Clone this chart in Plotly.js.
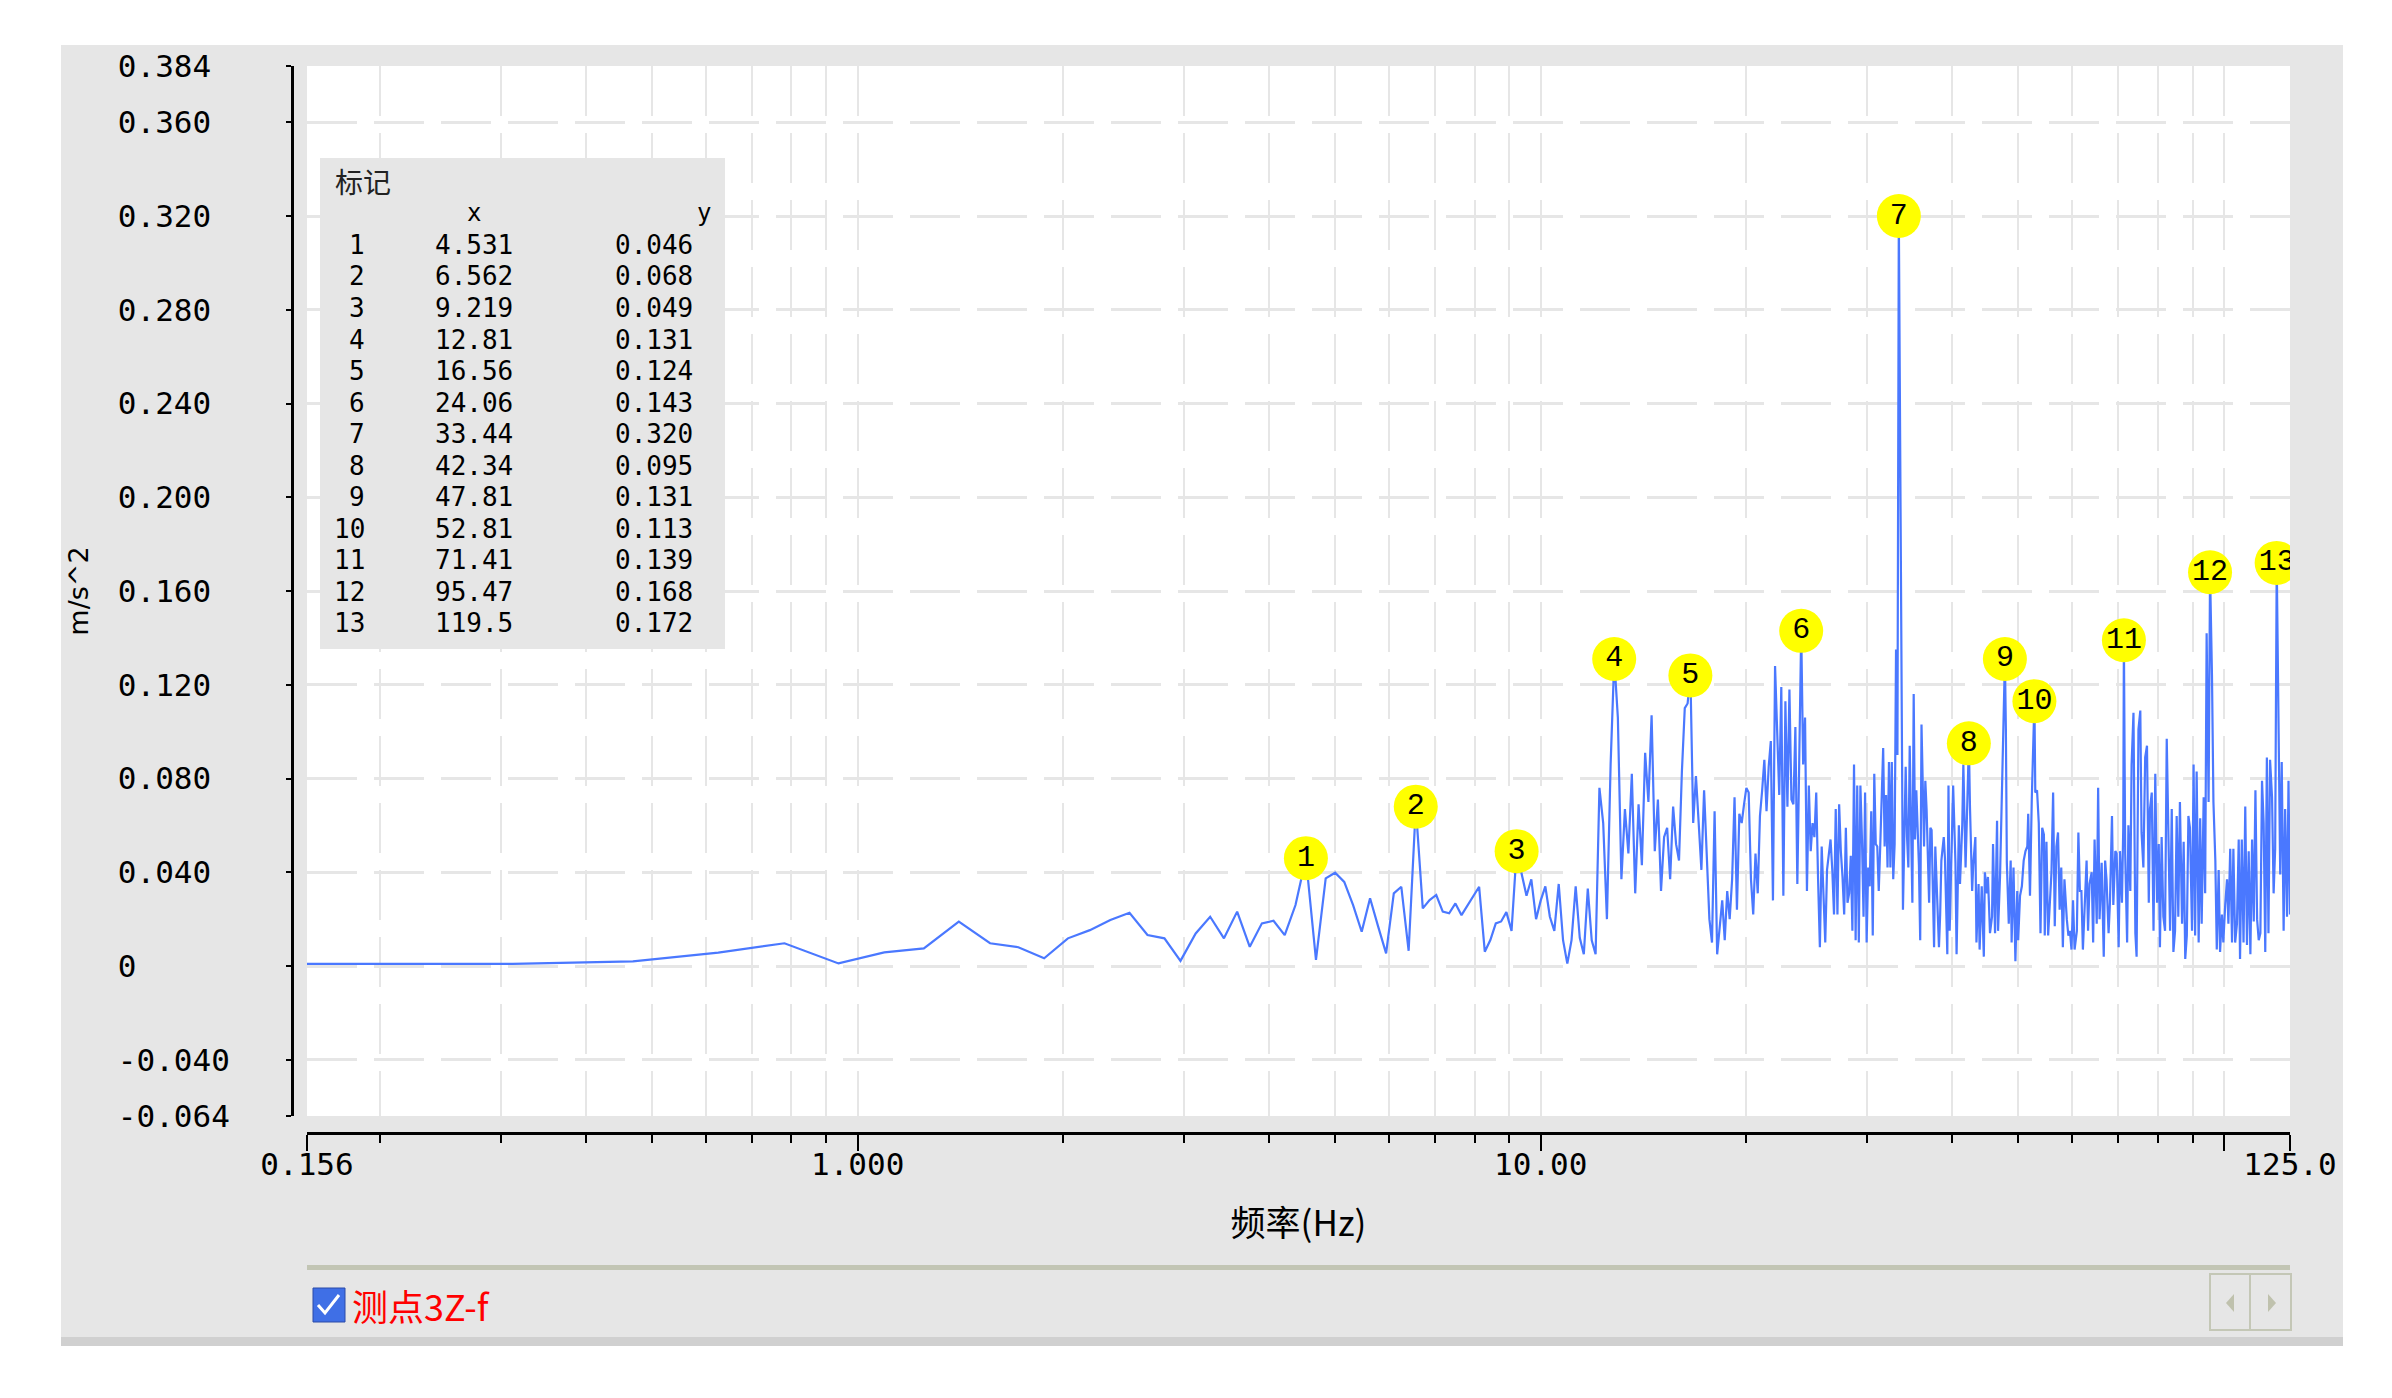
<!DOCTYPE html>
<html><head><meta charset="utf-8">
<script src="https://cdn.plot.ly/plotly-3.0.1.min.js"></script>
<style>
html,body{margin:0;padding:0;background:#ffffff;width:2392px;height:1398px;overflow:hidden;}
#chart{position:absolute;left:61px;top:45px;width:2282px;height:1301px;}
</style></head><body><div id="chart"></div>
<script>
// ---------------- DATA ----------------
// FFT line spacing of the spectrum (Hz per bin)
const FREQ_STEP_HZ = 0.15625;
// Amplitudes are given in units of 0.001 m/s^2
// bins 1..109, consecutive
const lowStartBin = 1;
const lowAmp = [0.9,0.9,2.0,5.7,9.7,1.1,5.8,7.5,18.9,9.7,
  8.0,3.3,11.8,15.3,19.6,22.7,13.2,11.8,2.2,13.9,
  21.0,11.8,23.2,8.2,18.2,19.3,13.2,26.0,46,2.6,
  37.4,39.8,35.9,26.0,14.6,28.9,16.8,5.4,31.0,33.8,
  6.5,68,24.6,28.1,30.3,23.2,22.5,26.7,21.7,26.0,
  29.6,33.8,6.1,11.1,18.2,19,23,15,49,39,
  30,37,20,28,34,21,15,35,11,1,
  11,34,12,5,33,11,5,76,61,20,
  86,131,106,37,67,48,82,31,69,43,
  91,70,107,49,71,32,55,59,37,68,
  52,45,83,110,112,124,61,81,59];
// bins 110..215, consecutive
const midStartBin = 110;
const midAmp = [41,75,46,20,10,66,5,18,28,11,
  32,20,37,72,24,65,61,69,76,74,
  37,22,48,31,64,75,88,66,85,96,
  28,128,99,73,119,30,113,68,118,71,
  69,102,35,99,143,86,106,32,77,49,
  61,55,74,37,8,51,28,10,41,47,
  54,41,22,67,22,69,49,38,22,59,
  27,31,47,15,86,11,77,10,77,54,
  21,74,10,42,34,66,13,82,52,51,
  32,51,71,93,51,73,42,87,42,87,
  37,52,135,90,320,228];
// dense part above bin 215 (bin numbers)
const highBins = [216,217,219,220,221,222,224,225,226,227,229,230,231,233,234,235,237,238,239,241,
  242,243,245,246,247,249,250,252,253,254,256,257,259,260,262,263,265,266,268,269,
  271,272,274,275,277,278,280,281,283,285,286,288,289,291,293,294,296,298,299,301,
  303,305,306,307,308,310,312,313,315,317,319,320,322,324,326,328,330,331,333,335,
  337,338,339,341,343,345,347,349,350,352,354,356,358,360,362,364,366,368,370,372,
  374,377,379,381,383,385,387,390,392,394,396,398,401,403,405,407,410,412,414,417,
  419,421,424,427,429,431,434,436,439,441,444,446,449,451,454,456,457,459,462,464,
  467,469,472,475,477,480,483,485,488,491,494,497,499,502,505,508,511,514,516,519,
  522,525,528,531,534,537,540,543,546,549,552,556,559,562,565,568,571,575,578,581,
  584,588,591,594,598,601,604,608,611,615,618,622,625,629,632,636,639,643,647,650,
  654,658,661,665,669,673,676,680,684,688,692,696,700,704,708,712,716,720,724,728,
  732,736,740,744,748,753,757,761,765,770,774,778,783,787,792,796,800];
const highAmp = [95,24,85,55,42,94,27,116,54,75,43,11,103,51,79,67,27,59,58,8,
  51,35,8,22,45,55,46,5,77,15,58,77,44,5,60,35,60,86,42,59,
  95,68,32,43,55,10,35,7,34,4,40,31,38,14,21,52,14,62,15,38,
  75,122,131,101,44,18,45,10,42,2,32,11,30,34,45,49,51,65,30,71,
  104,113,74,75,61,14,59,56,13,53,13,25,40,74,17,51,57,24,42,8,
  37,20,13,15,7,28,7,15,57,32,32,7,27,45,15,35,40,10,54,18,
  76,20,44,4,45,37,14,27,64,26,49,48,8,49,27,59,139,48,10,60,
  32,86,108,14,4,101,109,57,42,89,94,27,67,74,15,82,27,52,8,55,
  21,15,97,54,15,67,6,15,64,21,70,18,53,3,13,64,59,15,86,13,
  83,10,63,18,72,31,142,70,168,124,70,45,7,41,6,22,10,26,37,18,
  50,10,50,10,18,54,3,54,10,68,9,49,5,54,19,75,20,11,14,79,
  61,6,89,14,88,72,31,50,172,99,39,87,15,67,21,79,22];

// Marker table
const markerNo = [1,2,3,4,5,6,7,8,9,10,11,12,13];
const markerFreq = [4.531,6.562,9.219,12.81,16.56,24.06,33.44,42.34,47.81,52.81,71.41,95.47,119.5];
const markerAmp = [0.046,0.068,0.049,0.131,0.124,0.143,0.320,0.095,0.131,0.113,0.139,0.168,0.172];

// Axis ticks
const yTickVals = [-0.064,-0.04,0,0.04,0.08,0.12,0.16,0.2,0.24,0.28,0.32,0.36,0.384];
const yTickLabels = ['-0.064','-0.040','0','0.040','0.080','0.120','0.160','0.200','0.240','0.280','0.320','0.360','0.384'];
const xTickVals = [0.15625,1,10,100,125];
const xTickLabels = ['0.156','1.000','10.00','','125.0'];
const xMinorVals = [0.2,0.3,0.4,0.5,0.6,0.7,0.8,0.9,2,3,4,5,6,7,8,9,20,30,40,50,60,70,80,90];

// ---------------- BUILD ----------------
const freq = [], amp = [];
lowAmp.forEach((v,i)=>{freq.push((lowStartBin+i)*FREQ_STEP_HZ); amp.push(v/1000);});
midAmp.forEach((v,i)=>{freq.push((midStartBin+i)*FREQ_STEP_HZ); amp.push(v/1000);});
highBins.forEach((b,i)=>{freq.push(b*FREQ_STEP_HZ); amp.push(highAmp[i]/1000);});

const W = 2282, H = 1301, OX = 61, OY = 45;
const fx = p => (p - OX) / W;
const fy = p => 1 - (p - OY) / H;
const NB = '\u00a0';
const yTickText = yTickLabels.map(s => s.padEnd(6, NB));

const GRID = '#e6e6e6';
const MONO = 'DejaVu Sans Mono, Liberation Mono, monospace';
const CJK = 'Noto Sans CJK SC, sans-serif';

const traces = [
  {type:'scatter', mode:'lines', x:freq, y:amp,
   line:{color:'#4a78ff', width:2.2}, hoverinfo:'skip', showlegend:false},
  {type:'scatter', mode:'markers+text', x:markerFreq, y:markerAmp,
   text:markerNo.map(String), textposition:'middle center',
   marker:{size:44, color:'#ffff00', line:{width:0}},
   textfont:{family:'Liberation Mono, monospace', size:30, color:'#000000'},
   hoverinfo:'skip', showlegend:false}
];

const shapes = [
  // table box
  {type:'rect', xref:'paper', yref:'paper', x0:fx(320), x1:fx(725), y0:fy(649), y1:fy(158),
   fillcolor:'#e6e6e6', line:{width:0}},
  // legend separator bar
  {type:'rect', xref:'paper', yref:'paper', x0:fx(307), x1:fx(2290), y0:fy(1270), y1:fy(1265),
   fillcolor:'#c2c5b4', line:{width:0}},
  // checkbox
  {type:'rect', xref:'paper', yref:'paper', x0:fx(313), x1:fx(345), y0:fy(1322), y1:fy(1288),
   fillcolor:'#3f6fe6', line:{color:'#2a4aa8', width:1}},
  {type:'path', xref:'paper', yref:'paper',
   path:`M${fx(318)},${fy(1305)} L${fx(325)},${fy(1313)} L${fx(339)},${fy(1295)}`,
   line:{color:'#ffffff', width:3}},
  // scroll buttons
  {type:'rect', xref:'paper', yref:'paper', x0:fx(2210), x1:fx(2291), y0:fy(1330), y1:fy(1274),
   fillcolor:'#e6e6e6', line:{color:'#c4c7b6', width:2}},
  {type:'line', xref:'paper', yref:'paper', x0:fx(2250), x1:fx(2250), y0:fy(1329), y1:fy(1275),
   line:{color:'#c4c7b6', width:2}},
  {type:'path', xref:'paper', yref:'paper',
   path:`M${fx(2226)},${fy(1303)} L${fx(2234)},${fy(1294)} L${fx(2234)},${fy(1312)} Z`,
   fillcolor:'#bfc1ad', line:{width:0}},
  {type:'path', xref:'paper', yref:'paper',
   path:`M${fx(2276)},${fy(1303)} L${fx(2268)},${fy(1294)} L${fx(2268)},${fy(1312)} Z`,
   fillcolor:'#bfc1ad', line:{width:0}},
  // bottom edge strip
  {type:'rect', xref:'paper', yref:'paper', x0:fx(61), x1:fx(2343), y0:fy(1346), y1:fy(1337),
   fillcolor:'#d0d0d0', line:{width:0}}
];

const annotations = [
  {xref:'paper', yref:'paper', x:fx(333), y:fy(181), xanchor:'left', yanchor:'middle', showarrow:false,
   text:'标记', font:{family:CJK, size:28, color:'#222222'}},
  {xref:'paper', yref:'paper', x:fx(474), y:fy(213), xanchor:'center', yanchor:'middle', showarrow:false,
   text:'x', font:{family:MONO, size:24, color:'#000000'}},
  {xref:'paper', yref:'paper', x:fx(713), y:fy(213), xanchor:'right', yanchor:'middle', showarrow:false,
   text:'y', font:{family:MONO, size:24, color:'#000000'}},
  {xref:'paper', yref:'paper', x:fx(350), y:fy(1305), xanchor:'left', yanchor:'middle', showarrow:false,
   text:'测点3Z-f', font:{family:CJK, size:36, color:'#ff0000'}}
];
markerNo.forEach((n,i)=>{
  const yy = fy(245 + i*31.5);
  annotations.push({xref:'paper', yref:'paper', x:fx(367), y:yy, xanchor:'right', yanchor:'middle', showarrow:false,
    text:String(n), font:{family:MONO, size:26, color:'#000000'}});
  annotations.push({xref:'paper', yref:'paper', x:fx(433), y:yy, xanchor:'left', yanchor:'middle', showarrow:false,
    text:markerFreq[i].toPrecision(4), font:{family:MONO, size:26, color:'#000000'}});
  annotations.push({xref:'paper', yref:'paper', x:fx(613), y:yy, xanchor:'left', yanchor:'middle', showarrow:false,
    text:markerAmp[i].toFixed(3), font:{family:MONO, size:26, color:'#000000'}});
});

const layout = {
  width:W, height:H,
  margin:{l:0, r:0, t:0, b:0, pad:0},
  paper_bgcolor:'#e6e6e6', plot_bgcolor:'#ffffff',
  showlegend:false, hovermode:false,
  xaxis:{
    type:'log', range:[Math.log10(0.15625), Math.log10(125)],
    domain:[fx(307), fx(2290)], anchor:'free', position:fy(1133),
    showline:true, linecolor:'#000000', linewidth:3,
    ticks:'outside', ticklen:16, tickwidth:2, tickcolor:'#000000',
    tickmode:'array', tickvals:xTickVals, ticktext:xTickLabels,
    tickfont:{family:MONO, size:31, color:'#000000'}, ticklabelstandoff:-13,
    showgrid:true, gridcolor:GRID, gridwidth:2, griddash:'50px,17px',
    minor:{tickmode:'array', tickvals:xMinorVals, ticks:'outside', ticklen:8, tickwidth:2, tickcolor:'#000000',
      showgrid:true, gridcolor:GRID, gridwidth:2, griddash:'50px,17px'},
    zeroline:false, automargin:false, fixedrange:true,
    title:{text:'频率(Hz)', font:{family:CJK, size:35, color:'#000000'}, standoff:30}
  },
  yaxis:{
    range:[-0.064, 0.384],
    domain:[fy(1116), fy(66)], anchor:'free', position:fx(292),
    showline:true, linecolor:'#000000', linewidth:3,
    ticks:'outside', ticklen:5, tickwidth:2, tickcolor:'#000000',
    tickmode:'array', tickvals:yTickVals, ticktext:yTickText,
    tickfont:{family:MONO, size:31, color:'#000000'}, ticklabelstandoff:50,
    showgrid:true, gridcolor:GRID, gridwidth:3, griddash:'50px,17px',
    zeroline:false, automargin:false, fixedrange:true,
    title:{text:'m/s^2', font:{family:'DejaVu Sans, sans-serif', size:27, color:'#000000'}, standoff:20}
  },
  shapes:shapes, annotations:annotations
};

Plotly.newPlot('chart', traces, layout, {staticPlot:true, displayModeBar:false});
</script></body></html>
